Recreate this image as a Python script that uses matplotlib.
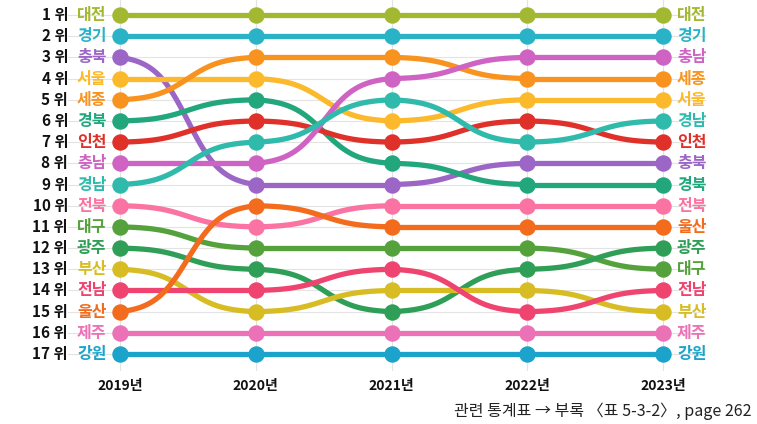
"""Bump chart of regional ranks, 2019-2023."""
import matplotlib
matplotlib.use("Agg")
import matplotlib.pyplot as plt
import numpy as np

plt.rcParams["font.family"] = ["Noto Sans CJK KR", "DejaVu Sans"]

years = ["2019년", "2020년", "2021년", "2022년", "2023년"]
regions = ["대전", "경기", "충북", "서울", "세종", "경북", "인천", "충남", "경남",
           "전북", "대구", "광주", "부산", "전남", "울산", "제주", "강원"]

# rank per year (2019 .. 2023)
rank_대전 = [1, 1, 1, 1, 1]
rank_경기 = [2, 2, 2, 2, 2]
rank_충북 = [3, 9, 9, 8, 8]
rank_서울 = [4, 4, 6, 5, 5]
rank_세종 = [5, 3, 3, 4, 4]
rank_경북 = [6, 5, 8, 9, 9]
rank_인천 = [7, 6, 7, 6, 7]
rank_충남 = [8, 8, 4, 3, 3]
rank_경남 = [9, 7, 5, 7, 6]
rank_전북 = [10, 11, 10, 10, 10]
rank_대구 = [11, 12, 12, 12, 13]
rank_광주 = [12, 13, 15, 13, 12]
rank_부산 = [13, 15, 14, 14, 15]
rank_전남 = [14, 14, 13, 15, 14]
rank_울산 = [15, 10, 11, 11, 11]
rank_제주 = [16, 16, 16, 16, 16]
rank_강원 = [17, 17, 17, 17, 17]

ranks = [rank_대전, rank_경기, rank_충북, rank_서울, rank_세종, rank_경북, rank_인천,
         rank_충남, rank_경남, rank_전북, rank_대구, rank_광주, rank_부산, rank_전남,
         rank_울산, rank_제주, rank_강원]

colors = ["#a3b831", "#2ab3c7", "#9b66c6", "#fbb92b", "#f7931e", "#22a67c", "#e0302a",
          "#cf63c3", "#2fbaac", "#fa73a2", "#55a23d", "#2f9e56", "#d7bd23", "#ef4370",
          "#f36b1c", "#eb72b7", "#1ba3cc"]

source = "관련 통계표 → 부록 〈표 5-3-2〉, page 262"


def sigmoid_path(x0, x1, y0, y1, smooth=8, n=60):
    t = np.linspace(0, 1, n)
    s = 1 / (1 + np.exp(-smooth * (t - 0.5)))
    s = (s - s[0]) / (s[-1] - s[0])
    return x0 + (x1 - x0) * t, y0 + (y1 - y0) * s


W, H = 757, 424
fig = plt.figure(figsize=(W / 100, H / 100), dpi=100)
ax = fig.add_axes([0, 0, 1, 1])
ax.axis("off")

# pixel mapping: year i -> 120 + 135.75*i ; rank r -> 15 + 21.19*(r-1)
px_x, px_y = 135.75, 21.19
ax.set_xlim(-120 / px_x, (W - 120) / px_x)
ax.set_ylim(1 + (H - 15) / px_y, 1 - 15 / px_y)

xs = np.arange(len(years))
grid_kw = dict(color="#e3e3e3", lw=0.8, zorder=0)
for r in range(1, 18):
    ax.plot([(68 - 120) / px_x, (705 - 120) / px_x], [r, r], **grid_kw)
for x in xs:
    ax.plot([x, x], [1 - 15 / px_y, 1 + (370 - 15) / px_y], **grid_kw)

for name, rk, col in zip(regions, ranks, colors):
    for i in range(len(years) - 1):
        px, py = sigmoid_path(xs[i], xs[i + 1], rk[i], rk[i + 1])
        ax.plot(px, py, color=col, lw=3.8, solid_capstyle="round", zorder=2)
    ax.scatter(xs, rk, s=140, color=col, zorder=3, lw=0)

    ax.text((77 - 120) / px_x, rk[0], name, color=col, fontsize=11.5, fontweight="bold",
            ha="left", va="center")
    ax.text((677 - 120) / px_x, rk[-1], name, color=col, fontsize=11.5, fontweight="bold",
            ha="left", va="center")

for r in range(1, 18):
    ax.text((68 - 120) / px_x, r, f"{r} 위", color="#111111", fontsize=11,
            fontweight="bold", ha="right", va="center")

for x, lab in zip(xs, years):
    ax.text(x, 1 + (386 - 15) / px_y, lab, color="#111111", fontsize=10,
            fontweight="bold", ha="center", va="center")

ax.text((752 - 120) / px_x, 1 + (411 - 15) / px_y, source, color="#222222",
        fontsize=11.5, ha="right", va="center")

fig.savefig("out.png", dpi=100)
